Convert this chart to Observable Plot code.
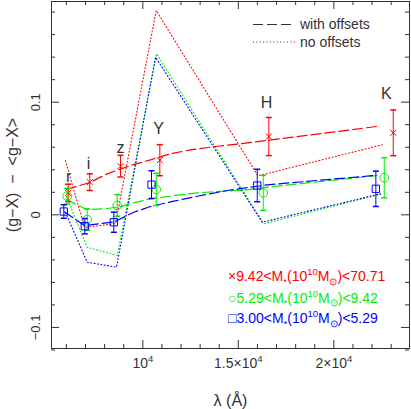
<!DOCTYPE html>
<html><head><meta charset="utf-8">
<script src="https://cdn.jsdelivr.net/npm/d3@7"></script>
<script src="https://cdn.jsdelivr.net/npm/@observablehq/plot@0.6"></script>
<style>body{margin:0;background:#fff}svg{display:block}</style>
</head><body><div id="chart"></div>
<script>
// ---------------- data ----------------
const bandNames = ["r", "i", "z", "Y", "H", "K"];
const bandLabelLambda = [6115, 7157, 8832, 10822, 16476, 22743];
const bandLabelValue = [0.034, 0.0453, 0.0594, 0.0763, 0.0996, 0.1075];

// measured points (shifted slightly in wavelength per mass bin)
const redPointLambda = [6094, 7225, 8832, 10890, 16597, 23110];
const redPointValue = [0.0195, 0.029, 0.0432, 0.0485, 0.0695, 0.0728];
const redPointError = [0.0077, 0.0074, 0.0096, 0.0138, 0.0169, 0.0203];

const greenPointLambda = [6042, 7089, 8660, 10702, 16304, 22639];
const greenPointValue = [0.0165, -0.0042, 0.0083, 0.0225, 0.0195, 0.0329];
const greenPointError = [0.007, 0.0095, 0.0096, 0.0143, 0.0155, 0.0178];

const bluePointLambda = [5864, 6963, 8482, 10455, 15990, 22199];
const bluePointValue = [0.0029, -0.0101, -0.0066, 0.0268, 0.026, 0.0231];
const bluePointError = [0.006, 0.0068, 0.0089, 0.0123, 0.0144, 0.0157];

// "with offsets" curves (dashed)
const redDashedLambda = [6005, 7225, 8136, 9356, 10403, 11450, 12497, 13895, 15110, 16513, 22356];
const redDashedValue = [0.0225, 0.0287, 0.0364, 0.0438, 0.0488, 0.0542, 0.0577, 0.0609, 0.0631, 0.066, 0.0787];
const greenDashedLambda = [6005, 7052, 8047, 8832, 9356, 10403, 11623, 12848, 14241, 15466, 16513, 22272];
const greenDashedValue = [0.0136, 0.0047, 0.0053, 0.0073, 0.01, 0.0142, 0.0171, 0.0195, 0.021, 0.0222, 0.0245, 0.0349];
const blueDashedLambda = [5901, 6948, 8482, 9529, 10403, 11623, 12848, 14419, 15639, 16513, 22094];
const blueDashedValue = [0.0025, -0.0095, -0.0064, 0.0023, 0.0074, 0.0121, 0.0165, 0.0216, 0.0245, 0.0266, 0.0349];

// "no offsets" lines (dotted)
const redDottedLambda = [5953, 6948, 8571, 10702, 16031, 22534];
const redDottedValue = [0.0481, -0.0113, -0.0077, 0.1814, 0.0346, 0.0622];
const greenDottedLambda = [6005, 7089, 8660, 10717, 16335, 22534];
const greenDottedValue = [0.0162, -0.0288, -0.0361, 0.143, -0.008, 0.0187];
const blueDottedLambda = [5953, 7089, 8623, 10665, 16251, 22445];
const blueDottedValue = [0.002, -0.0421, -0.0465, 0.14, -0.0066, 0.0187];

// axes
const xMajorTicks = [10000, 15000, 20000];
const xTickLabels = ["10^{4}", "1.5×10^{4}", "2×10^{4}"];
const xMinorTicks = [6000, 7000, 8000, 9000, 11000, 12000, 13000, 14000, 16000, 17000, 18000, 19000, 21000, 22000, 23000];
const yMajorTicks = [-0.1, 0, 0.1];
const yTickLabels = ["−0.1", "0", "0.1"];
const yMinorTicks = [-0.12, -0.08, -0.06, -0.04, -0.02, 0.02, 0.04, 0.06, 0.08, 0.12, 0.14, 0.16, 0.18];

const legendLabels = ["×9.42<M_{*}(10^{10}M_{⊙})<70.71", "○5.29<M_{*}(10^{10}M_{⊙})<9.42", "□3.00<M_{*}(10^{10}M_{⊙})<5.29"];
const lineLegendLabels = ["with offsets", "no offsets"];
const lineLegendDash = ["10,4", "1,2.4"];

// ---------------- build ----------------
const W = 411, H = 409, mL = 51, mR = 2, mT = 1, mB = 61;
const fw = W - mL - mR, fh = H - mT - mB;
const font = "Liberation Sans, Arial, Helvetica, sans-serif";
const ink = "#333";
const RED = "#ff0000", GREEN = "#00ee00", BLUE = "#0000ff";
const DOT = "1,2.4", DASH = "10,4";

const zip = (xs, ys) => xs.map((x, i) => ({x, y: ys[i]}));
const pts = (xs, ys, es) => xs.map((x, i) => ({x, y: ys[i], lo: ys[i] - es[i], hi: ys[i] + es[i]}));
const capSymbol = {draw(ctx, size) { const r = Math.sqrt(size / Math.PI); ctx.moveTo(-r, 0); ctx.lineTo(r, 0); }};

const series = [
  {color: RED, dashed: zip(redDashedLambda, redDashedValue), dotted: zip(redDottedLambda, redDottedValue), points: pts(redPointLambda, redPointValue, redPointError), symbol: "times", r: 2.8},
  {color: GREEN, dashed: zip(greenDashedLambda, greenDashedValue), dotted: zip(greenDottedLambda, greenDottedValue), points: pts(greenPointLambda, greenPointValue, greenPointError), symbol: "circle", r: 4.3},
  {color: BLUE, dashed: zip(blueDashedLambda, blueDashedValue), dotted: zip(blueDottedLambda, blueDottedValue), points: pts(bluePointLambda, bluePointValue, bluePointError), symbol: "square", r: 4.1}
];

const marks = [];
for (const s of series) {
  marks.push(Plot.line(s.dotted, {x: "x", y: "y", stroke: s.color, strokeWidth: 1.1, strokeDasharray: DOT}));
}
for (const s of series) {
  marks.push(Plot.line(s.dashed, {x: "x", y: "y", stroke: s.color, strokeWidth: 1.2, strokeDasharray: DASH}));
}
for (const s of series) {
  marks.push(Plot.ruleX(s.points, {x: "x", y1: "lo", y2: "hi", stroke: s.color, strokeWidth: 1}));
  marks.push(Plot.dot(s.points, {x: "x", y: "lo", symbol: capSymbol, r: 3, stroke: s.color, fill: "none"}));
  marks.push(Plot.dot(s.points, {x: "x", y: "hi", symbol: capSymbol, r: 3, stroke: s.color, fill: "none"}));
  marks.push(Plot.dot(s.points, {x: "x", y: "y", symbol: s.symbol, r: s.r, stroke: s.color, fill: "none", strokeWidth: 1}));
}
// band labels
marks.push(Plot.text(bandNames, {x: (d, i) => bandLabelLambda[i], y: (d, i) => bandLabelValue[i], text: d => d, fontSize: 16, fontFamily: font, fill: ink, lineAnchor: "middle"}));
// ticks (inward, all four sides)
marks.push(Plot.tickX(xMinorTicks, {x: d => d, insetTop: fh - 4, stroke: ink}));
marks.push(Plot.tickX(xMajorTicks, {x: d => d, insetTop: fh - 8, stroke: ink}));
marks.push(Plot.tickX(xMinorTicks, {x: d => d, insetBottom: fh - 4, stroke: ink}));
marks.push(Plot.tickX(xMajorTicks, {x: d => d, insetBottom: fh - 8, stroke: ink}));
marks.push(Plot.tickY(yMinorTicks, {y: d => d, insetRight: fw - 4, stroke: ink}));
marks.push(Plot.tickY(yMajorTicks, {y: d => d, insetRight: fw - 8, stroke: ink}));
marks.push(Plot.tickY(yMinorTicks, {y: d => d, insetLeft: fw - 4, stroke: ink}));
marks.push(Plot.tickY(yMajorTicks, {y: d => d, insetLeft: fw - 8, stroke: ink}));
marks.push(Plot.frame({stroke: ink}));
// tick labels
marks.push(Plot.text(xMajorTicks, {x: d => d, text: (d, i) => xTickLabels[i], frameAnchor: "bottom", dy: 15, fontSize: 14, fontFamily: font, fill: ink, lineAnchor: "middle"}));
marks.push(Plot.text(yMajorTicks, {y: d => d, text: (d, i) => yTickLabels[i], frameAnchor: "left", dx: -16, rotate: -90, fontSize: 13, fontFamily: font, fill: ink, textAnchor: "middle", lineAnchor: "middle"}));
// axis titles
marks.push(Plot.text(["λ\u00a0(Å)"], {frameAnchor: "bottom", dy: 52, fontSize: 16, fontFamily: font, fill: ink, lineAnchor: "middle"}));
marks.push(Plot.text(["(g−X)\u00a0\u00a0−\u00a0\u00a0<g−X>"], {frameAnchor: "left", dx: -39, rotate: -90, fontSize: 16, fontFamily: font, fill: ink, textAnchor: "middle", lineAnchor: "middle"}));

const plot = Plot.plot({
  width: W, height: H,
  marginLeft: mL, marginRight: mR, marginTop: mT, marginBottom: mB,
  x: {domain: [5220, 23960], axis: null},
  y: {domain: [-0.1187, 0.1894], axis: null},
  style: {background: "#fff"},
  marks
});

const svg = d3.select(plot);
// mass-bin legend (bottom right, inside frame)
const legendColors = [RED, GREEN, BLUE];
const legendY = [281, 302.5, 323];
const lgText = svg.append("g").attr("font-family", font).attr("font-size", 14).attr("text-anchor", "start");
legendLabels.forEach((t, i) => {
  lgText.append("text").attr("x", 228).attr("y", legendY[i]).attr("dy", "0.35em").attr("fill", legendColors[i]).text(t);
});
// line style legend (top right)
const lineLegendY = [24.5, 42];
const lg = svg.append("g").attr("font-family", font).attr("font-size", 14).attr("text-anchor", "start");
lineLegendLabels.forEach((t, i) => {
  lg.append("line").attr("x1", 253).attr("x2", 295).attr("y1", lineLegendY[i]).attr("y2", lineLegendY[i])
    .attr("stroke", ink).attr("stroke-width", 1.1).attr("stroke-dasharray", lineLegendDash[i]);
  lg.append("text").attr("x", 300).attr("y", lineLegendY[i]).attr("dy", "0.35em").attr("fill", ink).text(t);
});

// rich text: ^{..} superscript, _{..} subscript
svg.selectAll("text").each(function() {
  const s = this.textContent;
  if (!/[\^_]\{/.test(s)) return;
  const fs = parseFloat(getComputedStyle(this).fontSize) || 14;
  const parts = s.split(/(\^\{[^}]*\}|_\{[^}]*\})/).filter(p => p.length);
  const el = d3.select(this);
  el.text(null);
  let shift = 0;
  for (const p of parts) {
    let target = 0, content = p, small = false;
    if (p.startsWith("^{")) { target = -0.42 * fs; content = p.slice(2, -1); small = true; }
    else if (p.startsWith("_{")) { target = 0.25 * fs; content = p.slice(2, -1); small = true; }
    const ts = el.append("tspan").text(content).attr("dy", (target - shift).toFixed(2));
    if (small) ts.attr("font-size", (0.68 * fs).toFixed(1));
    shift = target;
  }
});

document.getElementById("chart").append(plot);
</script>
</body></html>
